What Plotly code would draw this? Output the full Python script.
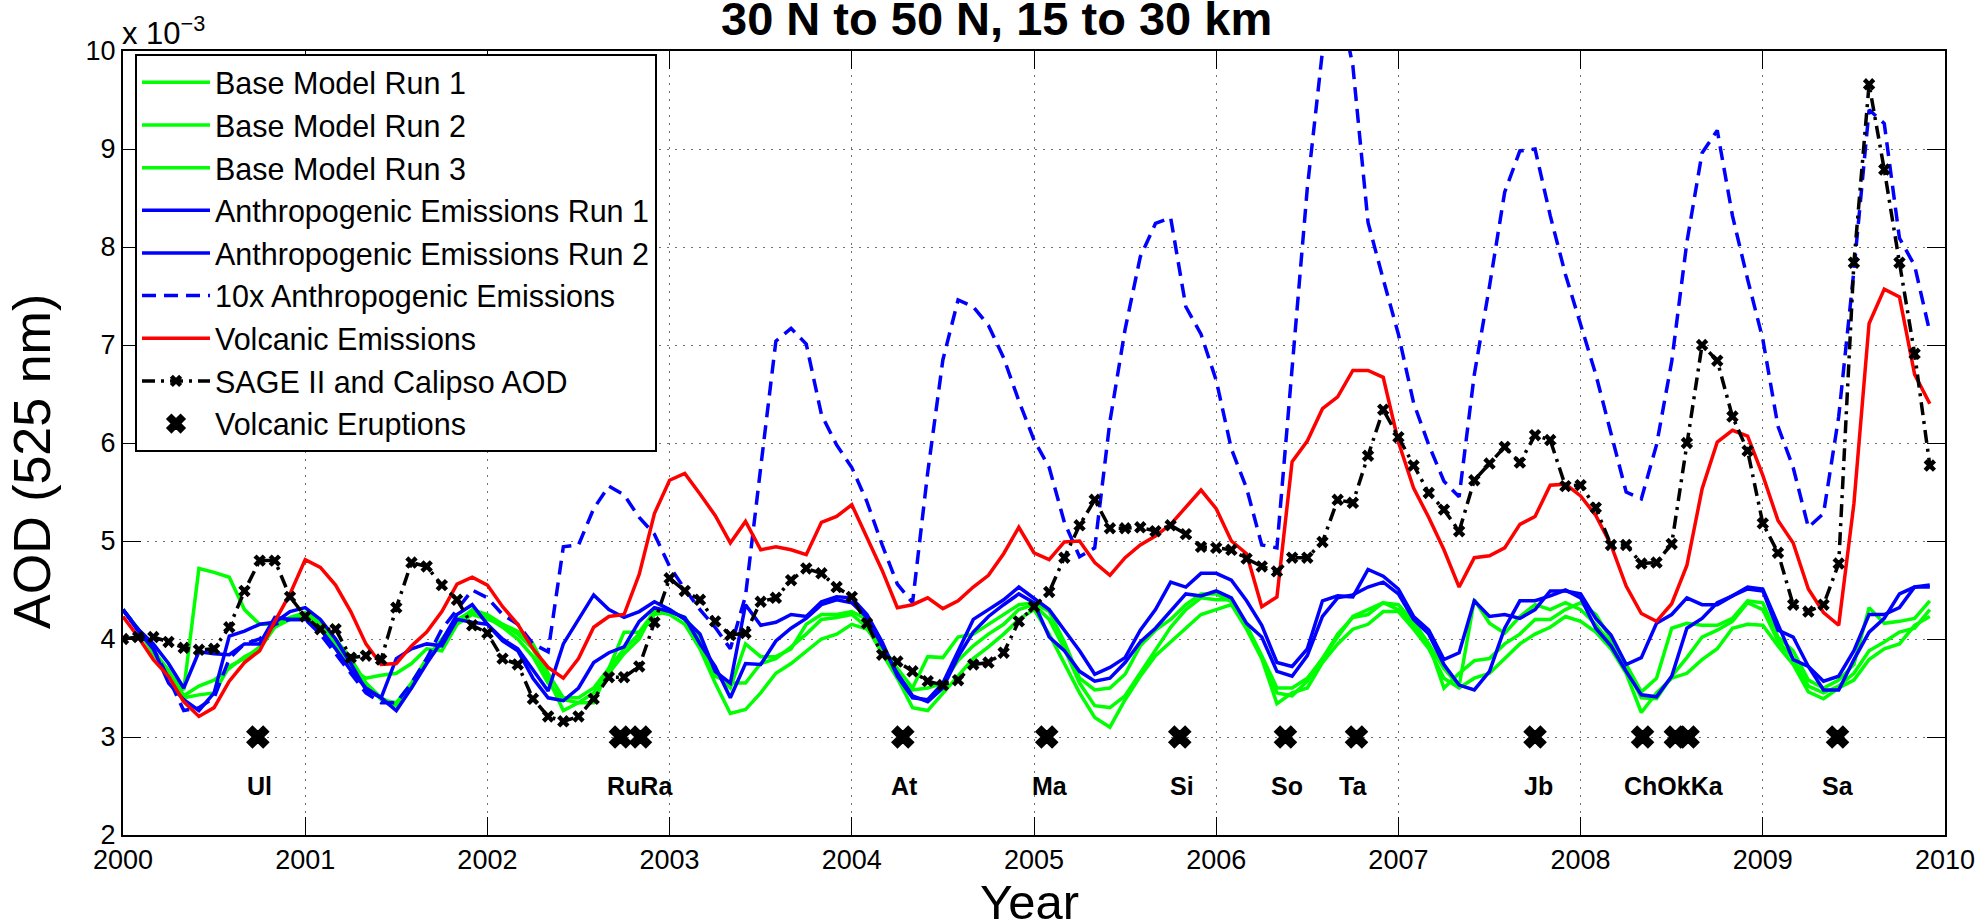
import plotly.graph_objects as go

# Monthly time axis, Jan 2000 .. Dec 2009 (fractional years)
months = [2000 + m / 12 for m in range(120)]

# Stratospheric AOD at 525 nm, in units of 1e-3, one row per year
base_run1 = [
    4.30, 4.10, 3.85, 3.65, 3.48, 4.72, 4.68, 4.63, 4.30, 4.15, 4.15, 4.20,
    4.22, 4.10, 3.90, 3.70, 3.60, 3.63, 3.65, 3.75, 3.90, 3.88, 4.15, 4.25,
    4.20, 4.15, 4.05, 3.90, 3.60, 3.27, 3.35, 3.35, 3.70, 4.07, 4.07, 4.28,
    4.25, 4.15, 3.90, 3.55, 3.24, 3.28, 3.45, 3.65, 3.75, 3.88, 4.00, 4.05,
    4.15, 4.10, 3.90, 3.60, 3.30, 3.27, 3.45, 3.62, 3.80, 3.92, 4.05, 4.20,
    4.30, 4.05, 3.75, 3.45, 3.20, 3.10, 3.38, 3.62, 3.83, 3.97, 4.10, 4.25,
    4.30, 4.35, 4.10, 3.80, 3.34, 3.45, 3.50, 3.76, 3.95, 4.10, 4.15, 4.28,
    4.28, 4.10, 3.90, 3.60, 3.50, 3.60, 3.65, 3.80, 3.95, 4.05, 4.12, 4.23,
    4.18, 4.07, 3.90, 3.65, 3.25, 3.45, 3.60, 3.65, 3.79, 3.90, 4.11, 4.15,
    4.14, 3.93, 3.74, 3.46, 3.39, 3.50, 3.58, 3.79, 3.90, 3.95, 4.14, 4.23,
]
base_run2 = [
    4.30, 4.10, 3.88, 3.68, 3.42, 3.52, 3.58, 3.70, 3.82, 3.90, 4.12, 4.20,
    4.25, 4.15, 3.95, 3.75, 3.55, 3.38, 3.35, 3.55, 3.80, 4.00, 4.20, 4.28,
    4.22, 4.12, 4.00, 3.82, 3.55, 3.38, 3.35, 3.45, 3.65, 3.85, 4.00, 4.30,
    4.30, 4.20, 3.95, 3.62, 3.55, 3.55, 3.75, 3.80, 3.92, 4.05, 4.20, 4.22,
    4.25, 4.12, 3.85, 3.60, 3.48, 3.50, 3.55, 3.78, 3.93, 4.05, 4.15, 4.30,
    4.35, 4.20, 3.90, 3.55, 3.32, 3.30, 3.42, 3.65, 3.88, 4.12, 4.30, 4.42,
    4.40, 4.40, 4.12, 3.82, 3.45, 3.42, 3.57, 3.80, 4.05, 4.22, 4.25, 4.37,
    4.35, 4.18, 3.95, 3.70, 3.52, 4.40, 4.16, 4.06, 4.23, 4.35, 4.30, 4.37,
    4.30, 4.15, 3.95, 3.70, 3.40, 3.39, 3.62, 3.81, 4.02, 4.09, 4.18, 4.37,
    4.30, 3.98, 3.80, 3.52, 3.45, 3.52, 3.65, 3.88, 3.97, 4.07, 4.11, 4.30,
]
base_run3 = [
    4.30, 4.10, 3.88, 3.66, 3.40, 3.43, 3.45, 3.72, 3.80, 3.92, 4.15, 4.22,
    4.27, 4.18, 4.00, 3.80, 3.55, 3.40, 3.32, 3.50, 3.78, 3.95, 4.18, 4.30,
    4.25, 4.15, 4.08, 3.95, 3.65, 3.40, 3.40, 3.50, 3.70, 3.90, 4.05, 4.25,
    4.28, 4.22, 4.02, 3.65, 3.50, 3.95, 3.82, 3.82, 3.90, 4.15, 4.25, 4.25,
    4.28, 4.20, 3.92, 3.70, 3.50, 3.82, 3.81, 4.02, 4.05, 4.15, 4.25, 4.35,
    4.37, 4.28, 3.97, 3.60, 3.48, 3.50, 3.64, 3.93, 4.09, 4.20, 4.35, 4.46,
    4.46, 4.38, 4.14, 3.83, 3.50, 3.50, 3.60, 3.80, 4.02, 4.23, 4.30, 4.37,
    4.30, 4.15, 3.95, 3.50, 3.65, 3.78, 3.80, 3.95, 4.05, 4.20, 4.20, 4.30,
    4.37, 4.25, 4.00, 3.74, 3.46, 3.60, 4.11, 4.16, 4.14, 4.14, 4.21, 4.39,
    4.37, 4.02, 3.88, 3.58, 3.50, 3.58, 3.74, 4.32, 4.16, 4.18, 4.21, 4.39,
]
anthro_run1 = [
    4.30, 4.10, 3.95, 3.75, 3.50, 3.87, 3.85, 3.84, 3.95, 3.95, 4.22, 4.20,
    4.20, 4.10, 3.90, 3.68, 3.50, 3.40, 3.80, 3.90, 3.95, 3.93, 4.20, 4.17,
    4.15, 4.00, 3.90, 3.68, 3.47, 3.95, 4.20, 4.45, 4.30, 4.22, 4.28, 4.38,
    4.30, 4.20, 4.05, 3.67, 3.55, 4.35, 4.14, 4.17, 4.25, 4.23, 4.38, 4.43,
    4.42, 4.25, 3.97, 3.62, 3.40, 3.38, 3.55, 3.88, 4.20, 4.30, 4.40, 4.53,
    4.42, 4.30, 4.09, 3.88, 3.64, 3.71, 3.81, 4.09, 4.30, 4.58, 4.53, 4.67,
    4.67, 4.60, 4.39, 4.14, 3.76, 3.72, 3.90, 4.39, 4.44, 4.43, 4.71, 4.64,
    4.51, 4.23, 4.09, 3.79, 3.86, 4.39, 4.23, 4.25, 4.21, 4.30, 4.49, 4.49,
    4.46, 4.21, 4.04, 3.74, 3.81, 4.16, 4.25, 4.42, 4.35, 4.35, 4.44, 4.53,
    4.51, 4.16, 3.79, 3.72, 3.57, 3.62, 3.88, 4.25, 4.25, 4.32, 4.53, 4.53,
]
anthro_run2 = [
    4.30, 4.08, 3.90, 3.55, 3.38, 3.27, 3.45, 4.03, 4.08, 4.15, 4.17, 4.28,
    4.32, 4.20, 4.00, 3.75, 3.48, 3.40, 3.27, 3.50, 3.75, 3.98, 4.25, 4.35,
    4.15, 3.98, 3.88, 3.60, 3.40, 3.37, 3.50, 3.76, 3.86, 3.92, 4.18, 4.32,
    4.28, 4.22, 3.95, 3.72, 3.40, 3.75, 3.74, 3.98, 4.11, 4.21, 4.35, 4.40,
    4.37, 4.22, 3.93, 3.65, 3.42, 3.36, 3.50, 3.82, 4.07, 4.23, 4.35, 4.46,
    4.37, 4.02, 3.88, 3.67, 3.57, 3.60, 3.76, 3.97, 4.11, 4.28, 4.46, 4.44,
    4.49, 4.42, 4.16, 4.02, 3.67, 3.62, 3.83, 4.23, 4.42, 4.45, 4.53, 4.58,
    4.46, 4.20, 4.05, 3.74, 3.53, 3.48, 3.67, 4.11, 4.39, 4.39, 4.44, 4.50,
    4.42, 4.11, 3.93, 3.67, 3.43, 3.41, 3.62, 4.11, 4.21, 4.37, 4.44, 4.51,
    4.49, 4.09, 4.02, 3.72, 3.48, 3.48, 3.79, 4.07, 4.21, 4.46, 4.53, 4.55,
]
anthro_10x = [
    4.30, 4.10, 3.90, 3.60, 3.27, 3.30, 3.40, 3.80, 3.95, 4.00, 4.15, 4.20,
    4.20, 4.05, 3.85, 3.65, 3.45, 3.35, 3.35, 3.55, 3.80, 4.10, 4.30, 4.50,
    4.42, 4.25, 4.15, 3.95, 3.87, 4.94, 4.96, 5.33, 5.56, 5.47, 5.24, 5.07,
    4.74, 4.51, 4.30, 4.12, 3.90, 4.44, 5.75, 7.04, 7.17, 7.01, 6.29, 5.98,
    5.75, 5.40, 4.96, 4.56, 4.37, 5.70, 6.85, 7.46, 7.39, 7.20, 6.87, 6.43,
    6.03, 5.75, 5.19, 4.84, 4.93, 6.22, 7.16, 7.90, 8.24, 8.30, 7.39, 7.11,
    6.64, 5.94, 5.54, 4.96, 4.93, 6.80, 8.60, 10.00, 10.60, 9.85, 8.25, 7.67,
    7.11, 6.41, 5.98, 5.61, 5.45, 6.70, 7.60, 8.56, 8.98, 9.00, 8.32, 7.72,
    7.20, 6.70, 6.10, 5.50, 5.43, 5.98, 6.83, 8.05, 8.96, 9.19, 8.32, 7.67,
    7.06, 6.17, 5.75, 5.14, 5.28, 6.27, 7.76, 9.40, 9.26, 8.09, 7.81, 7.13,
]
volcanic = [
    4.23, 4.02, 3.79, 3.62, 3.36, 3.21, 3.30, 3.57, 3.76, 3.88, 4.18, 4.46,
    4.81, 4.73, 4.55, 4.28, 3.95, 3.74, 3.75, 3.93, 4.07, 4.28, 4.56, 4.63,
    4.55, 4.33, 4.15, 3.90, 3.71, 3.60, 3.80, 4.12, 4.23, 4.25, 4.66, 5.28,
    5.62, 5.69, 5.48, 5.26, 4.98, 5.20, 4.91, 4.94, 4.91, 4.86, 5.19, 5.25,
    5.37, 5.03, 4.70, 4.32, 4.35, 4.42, 4.31, 4.39, 4.53, 4.65, 4.87, 5.14,
    4.88, 4.81, 4.99, 5.00, 4.78, 4.65, 4.83, 4.96, 5.05, 5.17, 5.35, 5.52,
    5.33, 5.00, 4.87, 4.33, 4.43, 5.81, 6.02, 6.35, 6.47, 6.74, 6.74, 6.67,
    6.01, 5.54, 5.24, 4.91, 4.53, 4.83, 4.85, 4.93, 5.17, 5.25, 5.57, 5.58,
    5.46, 5.26, 4.96, 4.54, 4.26, 4.18, 4.36, 4.75, 5.53, 6.01, 6.13, 6.07,
    5.67, 5.21, 4.98, 4.51, 4.27, 4.14, 5.38, 7.22, 7.57, 7.49, 6.70, 6.40,
]
sage_calipso = [
    4.00, 4.02, 4.02, 3.97, 3.91, 3.89, 3.90, 4.12, 4.49, 4.80, 4.80, 4.43,
    4.23, 4.10, 4.10, 3.81, 3.83, 3.79, 4.32, 4.78, 4.74, 4.55, 4.40, 4.14,
    4.06, 3.80, 3.74, 3.39, 3.21, 3.16, 3.21, 3.39, 3.61, 3.61, 3.72, 4.17,
    4.62, 4.49, 4.40, 4.18, 4.04, 4.06, 4.38, 4.42, 4.60, 4.72, 4.67, 4.53,
    4.43, 4.16, 3.84, 3.77, 3.67, 3.57, 3.53, 3.58, 3.74, 3.76, 3.86, 4.18,
    4.33, 4.48, 4.83, 5.16, 5.42, 5.13, 5.13, 5.14, 5.10, 5.16, 5.07, 4.94,
    4.93, 4.91, 4.82, 4.74, 4.69, 4.83, 4.83, 4.99, 5.42, 5.39, 5.87, 6.34,
    6.06, 5.77, 5.49, 5.32, 5.10, 5.62, 5.79, 5.96, 5.80, 6.08, 6.03, 5.56,
    5.57, 5.34, 4.96, 4.96, 4.77, 4.78, 4.97, 6.00, 7.00, 6.84, 6.27, 5.92,
    5.18, 4.88, 4.35, 4.28, 4.35, 4.77, 7.84, 9.66, 8.79, 7.84, 6.91, 5.77,
]

# Volcanic eruptions (decimal year) drawn as markers on a fixed level
eruption_years = [2000.74, 2002.73, 2002.84, 2004.28, 2005.07, 2005.80, 2006.38,
                  2006.77, 2007.75, 2008.34, 2008.52, 2008.59, 2009.41]
eruption_level = 3.0
eruption_labels = ["Ul", "RuRa", "At", "Ma", "Si", "So", "Ta", "Jb", "ChOkKa", "Sa"]
eruption_label_x = [2000.75, 2002.84, 2004.29, 2005.09, 2005.81, 2006.39, 2006.75,
                    2007.77, 2008.51, 2009.41]
eruption_label_level = 2.5

year_ticks = list(range(2000, 2011))
aod_ticks = list(range(2, 11))

GREEN = "#00ff00"
BLUE = "#0000ff"
RED = "#ff0000"
FONT = "Liberation Sans, Arial, Helvetica, sans-serif"
LW = 3.5

fig = go.Figure()
for name, vals in [("Base Model Run 1", base_run1),
                   ("Base Model Run 2", base_run2),
                   ("Base Model Run 3", base_run3)]:
    fig.add_trace(go.Scatter(x=months, y=vals, mode="lines", name=name,
                             line=dict(color=GREEN, width=LW)))
for name, vals in [("Anthropogenic Emissions Run 1", anthro_run1),
                   ("Anthropogenic Emissions Run 2", anthro_run2)]:
    fig.add_trace(go.Scatter(x=months, y=vals, mode="lines", name=name,
                             line=dict(color=BLUE, width=LW)))
fig.add_trace(go.Scatter(x=months, y=anthro_10x, mode="lines",
                         name="10x Anthropogenic Emissions",
                         line=dict(color=BLUE, width=LW, dash="14px,8px")))
fig.add_trace(go.Scatter(x=months, y=volcanic, mode="lines",
                         name="Volcanic Emissions",
                         line=dict(color=RED, width=LW)))
fig.add_trace(go.Scatter(x=months, y=sage_calipso, mode="lines+markers",
                         name="SAGE II and Calipso AOD",
                         line=dict(color="black", width=LW, dash="13px,6px,3px,6px"),
                         marker=dict(symbol="x", size=11, color="black")))
fig.add_trace(go.Scatter(x=eruption_years, y=[eruption_level] * len(eruption_years),
                         mode="markers", name="Volcanic Eruptions",
                         marker=dict(symbol="x", size=19, color="black",
                                     line=dict(width=1.5, color="black"))))

# plot-area pixel geometry helpers (paper coordinates)
L, R, T, B = 123, 1945, 51, 835
W, H = 1980, 924


def px_x(p):
    return (p - L) / (R - L)


def px_y(p):
    return (B - p) / (B - T)


annotations = []
for lab, lx in zip(eruption_labels, eruption_label_x):
    annotations.append(dict(x=lx, y=eruption_label_level, xref="x", yref="y",
                            text="<b>%s</b>" % lab, showarrow=False,
                            font=dict(size=25, family=FONT, color="black")))
annotations.append(dict(x=px_x(996), y=px_y(18), xref="paper", yref="paper",
                        text="<b>30 N to 50 N, 15 to 30 km</b>", showarrow=False,
                        xanchor="center", yanchor="middle",
                        font=dict(size=47, family=FONT, color="black")))
annotations.append(dict(x=px_x(1029), y=px_y(902), xref="paper", yref="paper",
                        text="Year", showarrow=False, xanchor="center", yanchor="middle",
                        font=dict(size=49, family=FONT, color="black")))
annotations.append(dict(x=px_x(32), y=px_y(462), xref="paper", yref="paper",
                        text="AOD (525 nm)", showarrow=False, textangle=-90,
                        xanchor="center", yanchor="middle",
                        font=dict(size=52, family=FONT, color="black")))
annotations.append(dict(x=px_x(120), y=px_y(31), xref="paper", yref="paper",
                        text="x 10<sup>\u22123</sup>", showarrow=False,
                        xanchor="left", yanchor="middle",
                        font=dict(size=31, family=FONT, color="black")))

axis_common = dict(showline=True, linecolor="black", linewidth=2, mirror="ticks",
                   ticks="inside", ticklen=18, tickwidth=1, tickcolor="black",
                   showgrid=True, gridcolor="#707070", griddash="2px,6px", gridwidth=1,
                   zeroline=False, tickfont=dict(size=27, family=FONT, color="black"))

fig.update_xaxes(range=[2000, 2010], tickvals=year_ticks,
                 ticktext=[str(y) for y in year_ticks], **axis_common)
fig.update_yaxes(range=[2, 10], tickvals=aod_ticks,
                 ticktext=[str(v) for v in aod_ticks], **axis_common)

fig.update_layout(
    width=W, height=H,
    margin=dict(l=L, r=W - R, t=T, b=H - B, autoexpand=False),
    plot_bgcolor="white", paper_bgcolor="white",
    font=dict(family=FONT, color="black"),
    showlegend=True,
    legend=dict(x=px_x(135), y=px_y(54), xanchor="left", yanchor="top",
                bgcolor="white", bordercolor="black", borderwidth=2,
                font=dict(size=30.5, family=FONT, color="black"),
                itemwidth=68, tracegroupgap=0),
    annotations=annotations,
)

fig.write_html("out.html")
